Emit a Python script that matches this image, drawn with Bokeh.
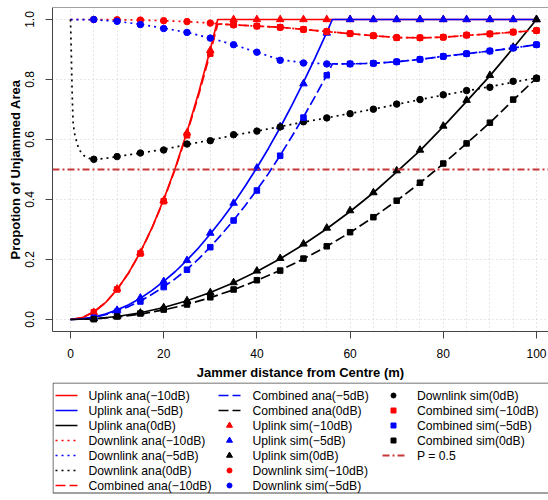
from bokeh.plotting import figure
from bokeh.models import Range1d, FixedTicker, Span, PrintfTickFormatter
from bokeh.layouts import column
from bokeh.embed import file_html
from bokeh.resources import INLINE
from bokeh.core.properties import value

FONT = "Liberation Sans"
RED, BLUE, BLACK = "#FF0000", "#0000FF", "#000000"
P_COLOR = "#C83737"
FRAME = "#444444"

# ---------------- data ----------------
X_TICKS = [0, 20, 40, 60, 80, 100]
Y_TICKS = [0.0, 0.2, 0.4, 0.6, 0.8, 1.0]
GRID_X = [0, 5, 10, 15, 20, 25, 30, 35, 40, 45, 50, 55, 60, 65, 70, 75, 80, 85, 90, 95, 100]
P_LEVEL = 0.5

# analytic curves
UL_M10_X = [0, 2.5, 5, 7.5, 10, 12.5, 15, 17.5, 20, 22.5, 25, 27.5, 30, 31.6, 100]
UL_M10_Y = [0, 0.006, 0.025, 0.056, 0.100, 0.156, 0.225, 0.306, 0.400, 0.506, 0.625, 0.756, 0.900, 1.0, 1.0]

UL_M5_X = [0, 2.5, 5, 7.5, 10, 12.5, 15, 17.5, 20, 22.5, 25, 27.5, 30, 32.5, 35, 37.5, 40, 42.5,
           45, 47.5, 50, 52.5, 55, 56.2, 100]
UL_M5_Y = [0, 0.002, 0.008, 0.018, 0.032, 0.049, 0.071, 0.097, 0.127, 0.160, 0.198, 0.239, 0.285,
           0.334, 0.387, 0.445, 0.506, 0.571, 0.640, 0.714, 0.791, 0.872, 0.957, 1.0, 1.0]

UL_0_X = [0, 5, 10, 15, 20, 25, 30, 35, 40, 45, 50, 55, 60, 65, 70, 75, 80, 85, 90, 95, 100]
UL_0_Y = [0, 0.0025, 0.010, 0.0225, 0.040, 0.0625, 0.090, 0.1225, 0.160, 0.2025, 0.250, 0.3025,
          0.360, 0.4225, 0.492, 0.563, 0.643, 0.727, 0.812, 0.905, 1.0]

DL_M10_X = [0, 5, 10, 15, 20, 25, 30, 35, 40, 45, 50, 55, 60, 65, 70, 75, 80, 85, 90, 95, 100]
DL_M10_Y = [1.0, 1.0, 0.999, 0.998, 0.996, 0.993, 0.988, 0.982, 0.978, 0.974, 0.967, 0.960, 0.953,
            0.946, 0.940, 0.939, 0.941, 0.947, 0.952, 0.958, 0.963]

DL_M5_X = [0, 5, 10, 15, 20, 25, 30, 35, 40, 45, 50, 55, 60, 65, 70, 75, 80, 85, 90, 95, 100]
DL_M5_Y = [1.0, 0.999, 0.994, 0.984, 0.971, 0.957, 0.938, 0.916, 0.891, 0.866, 0.856, 0.852, 0.852,
           0.854, 0.859, 0.867, 0.877, 0.886, 0.895, 0.905, 0.916]

DL_0_X = [0, 0.2, 0.35, 0.55, 0.8, 1.1, 1.8, 2.9, 4, 5, 7.5, 10, 15, 20, 25, 30, 35, 40, 45, 50,
          55, 60, 65, 70, 75, 80, 85, 90, 95, 100]
DL_0_Y = [1.0, 0.87, 0.76, 0.66, 0.625, 0.605, 0.567, 0.546, 0.537, 0.534, 0.537, 0.543, 0.555,
          0.567, 0.583, 0.598, 0.614, 0.628, 0.643, 0.658, 0.672, 0.687, 0.701, 0.717, 0.733,
          0.748, 0.762, 0.776, 0.791, 0.805]

CB_M10_X = [0, 2.5, 5, 7.5, 10, 12.5, 15, 17.5, 20, 22.5, 25, 27.5, 30, 31.6, 35, 40, 45, 50, 55,
            60, 65, 70, 75, 80, 85, 90, 95, 100]
CB_M10_Y = [0, 0.006, 0.025, 0.056, 0.100, 0.156, 0.224, 0.305, 0.398, 0.503, 0.620, 0.748, 0.889,
            0.985, 0.982, 0.978, 0.974, 0.967, 0.960, 0.953, 0.946, 0.940, 0.939, 0.941, 0.947,
            0.952, 0.958, 0.963]

CB_M5_X = [0, 2.5, 5, 7.5, 10, 12.5, 15, 17.5, 20, 22.5, 25, 27.5, 30, 32.5, 35, 37.5, 40, 42.5,
           45, 47.5, 50, 52.5, 55, 56.2, 60, 65, 70, 75, 80, 85, 90, 95, 100]
CB_M5_Y = [0, 0.002, 0.007, 0.016, 0.028, 0.043, 0.062, 0.084, 0.109, 0.136, 0.167, 0.202, 0.242,
           0.285, 0.331, 0.380, 0.432, 0.487, 0.547, 0.610, 0.675, 0.744, 0.815, 0.852, 0.852,
           0.854, 0.859, 0.867, 0.877, 0.886, 0.895, 0.905, 0.916]

CB_0_X = [0, 5, 10, 15, 20, 25, 30, 35, 40, 45, 50, 55, 60, 65, 70, 75, 80, 85, 90, 95, 100]
CB_0_Y = [0, 0.002, 0.008, 0.018, 0.032, 0.050, 0.073, 0.099, 0.130, 0.164, 0.202, 0.244, 0.290,
          0.341, 0.396, 0.455, 0.519, 0.587, 0.656, 0.731, 0.805]

# simulation points
SIM_X = [5, 10, 15, 20, 25, 30, 35, 40, 45, 50, 55, 60, 65, 70, 75, 80, 85, 90, 95, 100]
US_M10 = [0.024, 0.102, 0.222, 0.396, 0.622, 0.897, 1.0, 1.0, 1.0, 1.0, 1.0, 1.0, 1.0, 1.0, 1.0,
          1.0, 1.0, 1.0, 1.0, 1.0]
US_M5 = [0.008, 0.031, 0.072, 0.127, 0.197, 0.288, 0.388, 0.505, 0.643, 0.786, 0.955, 1.0, 1.0,
         1.0, 1.0, 1.0, 1.0, 1.0, 1.0, 1.0]
US_0 = [0.003, 0.010, 0.022, 0.040, 0.063, 0.090, 0.123, 0.162, 0.204, 0.252, 0.305, 0.363, 0.423,
        0.496, 0.565, 0.645, 0.731, 0.814, 0.908, 1.0]
DS_M10 = [1.0, 0.999, 0.998, 0.996, 0.993, 0.988, 0.982, 0.978, 0.974, 0.967, 0.960, 0.953, 0.946,
          0.940, 0.939, 0.941, 0.948, 0.952, 0.958, 0.963]
DS_M5 = [1.0, 0.994, 0.983, 0.970, 0.957, 0.938, 0.916, 0.891, 0.864, 0.855, 0.852, 0.852, 0.854,
         0.859, 0.867, 0.877, 0.886, 0.895, 0.905, 0.916]
DS_0 = [0.534, 0.543, 0.555, 0.565, 0.585, 0.596, 0.616, 0.628, 0.642, 0.659, 0.672, 0.686, 0.701,
        0.718, 0.733, 0.749, 0.763, 0.774, 0.794, 0.805]
CS_M10 = [0.024, 0.100, 0.220, 0.394, 0.614, 0.886, 0.983, 0.978, 0.974, 0.967, 0.960, 0.953,
          0.946, 0.939, 0.939, 0.941, 0.948, 0.952, 0.958, 0.963]
CS_M5 = [0.006, 0.026, 0.060, 0.108, 0.166, 0.241, 0.330, 0.430, 0.546, 0.673, 0.814, 0.852,
         0.854, 0.859, 0.867, 0.877, 0.886, 0.895, 0.905, 0.916]
CS_0 = [0.001, 0.010, 0.020, 0.033, 0.050, 0.074, 0.100, 0.131, 0.163, 0.203, 0.244, 0.291, 0.341,
        0.396, 0.456, 0.520, 0.587, 0.656, 0.733, 0.803]

LEGEND_LABELS = [
    "Uplink ana(\u221210dB)", "Uplink ana(\u22125dB)", "Uplink ana(0dB)",
    "Downlink ana(\u221210dB)", "Downlink ana(\u22125dB)", "Downlink ana(0dB)",
    "Combined ana(\u221210dB)", "Combined ana(\u22125dB)", "Combined ana(0dB)",
    "Uplink sim(\u221210dB)", "Uplink sim(\u22125dB)", "Uplink sim(0dB)",
    "Downlink sim(\u221210dB)", "Downlink sim(\u22125dB)", "Downlink sim(0dB)",
    "Combined sim(\u221210dB)", "Combined sim(\u22125dB)", "Combined sim(0dB)",
    "P = 0.5",
]

# ---------------- styles ----------------
SOLID, DOTTED, DASHED, DOTDASH = "solid", "2 4", "10 4", "7 3 2 3"
LW = 1.7
TRI, CIR, SQR = 7.5, 6.5, 5.5

W = 548
H_MAIN = 382
H_LEG = 118
LEFT = 52

# ---------------- main plot ----------------
p = figure(width=W, height=H_MAIN, output_backend="svg", toolbar_location=None,
           x_range=Range1d(-3.86, 102.58), y_range=Range1d(-0.04, 1.04),
           min_border_left=LEFT, min_border_right=0, min_border_top=7, min_border_bottom=50,
           background_fill_color="white", border_fill_color="white")
p.outline_line_color = None

for ax in (p.xaxis[0], p.yaxis[0]):
    ax.axis_line_color = FRAME
    ax.major_tick_line_color = FRAME
    ax.major_tick_out = 7
    ax.major_tick_in = 0
    ax.minor_tick_out = 0
    ax.minor_tick_in = 0
    ax.major_label_text_font = FONT
    ax.major_label_text_font_size = "12px"
    ax.major_label_text_color = "black"
    ax.axis_label_text_font = FONT
    ax.axis_label_text_font_size = "13px"
    ax.axis_label_text_font_style = "bold"
    ax.axis_label_text_color = "black"

p.xaxis.ticker = FixedTicker(ticks=X_TICKS)
p.yaxis.ticker = FixedTicker(ticks=Y_TICKS)
p.yaxis.formatter = PrintfTickFormatter(format="%.1f")
p.yaxis.major_label_orientation = "vertical"
p.xaxis.major_label_standoff = 10
p.yaxis.major_label_standoff = 12
p.xaxis.axis_label_standoff = 4
p.yaxis.axis_label_standoff = -1
p.xaxis.axis_label = "Jammer distance from Centre (m)"
p.yaxis.axis_label = "Propotion of Unjammed Area"

p.xgrid.ticker = FixedTicker(ticks=GRID_X)
p.ygrid.ticker = FixedTicker(ticks=Y_TICKS)
p.grid.grid_line_color = "#CCCCCC"
p.grid.grid_line_dash = "1 3"
p.grid.grid_line_width = 1

p.add_layout(Span(location=p.y_range.end, dimension="width", line_color=FRAME, line_width=1))

# analytic lines
p.line(UL_M10_X, UL_M10_Y, color=RED, line_width=LW)
p.line(UL_M5_X, UL_M5_Y, color=BLUE, line_width=LW)
p.line(UL_0_X, UL_0_Y, color=BLACK, line_width=LW)
p.line(DL_M10_X, DL_M10_Y, color=RED, line_width=LW, line_dash=DOTTED)
p.line(DL_M5_X, DL_M5_Y, color=BLUE, line_width=LW, line_dash=DOTTED)
p.line(DL_0_X, DL_0_Y, color=BLACK, line_width=LW, line_dash=DOTTED)
p.line(CB_M10_X, CB_M10_Y, color=RED, line_width=LW, line_dash=DASHED)
p.line(CB_M5_X, CB_M5_Y, color=BLUE, line_width=LW, line_dash=DASHED)
p.line(CB_0_X, CB_0_Y, color=BLACK, line_width=LW, line_dash=DASHED)

# simulation markers
for ys, c in ((US_M10, RED), (US_M5, BLUE), (US_0, BLACK)):
    p.scatter(SIM_X, ys, marker="triangle", size=TRI, color=c)
for ys, c in ((DS_M10, RED), (DS_M5, BLUE), (DS_0, BLACK)):
    p.scatter(SIM_X, ys, marker="circle", size=CIR, color=c)
for ys, c in ((CS_M10, RED), (CS_M5, BLUE), (CS_0, BLACK)):
    p.scatter(SIM_X, ys, marker="square", size=SQR, color=c)

p.add_layout(Span(location=P_LEVEL, dimension="width", line_color=P_COLOR, line_width=2,
                  line_dash=DOTDASH))

# ---------------- legend panel (x in page pixels, y in pixels from its top) ----------------
lg = figure(width=W, height=H_LEG, output_backend="svg", toolbar_location=None,
            x_range=Range1d(LEFT, W), y_range=Range1d(H_LEG, 0),
            min_border_left=LEFT, min_border_right=0, min_border_top=0, min_border_bottom=0,
            x_axis_type=None, y_axis_type=None,
            background_fill_color="white", border_fill_color="white")
lg.outline_line_color = None
lg.grid.visible = False

BOX_L, BOX_T, BOX_B = 52.5, 0.5, 110.5
lg.multi_line(xs=[[BOX_L, W], [BOX_L, BOX_L], [BOX_L, W]],
              ys=[[BOX_T, BOX_T], [BOX_T, BOX_B], [BOX_B, BOX_B]],
              line_color=FRAME, line_width=1)

items = [
    ("line", RED, SOLID), ("line", BLUE, SOLID), ("line", BLACK, SOLID),
    ("line", RED, DOTTED), ("line", BLUE, DOTTED), ("line", BLACK, DOTTED),
    ("line", RED, DASHED), ("line", BLUE, DASHED), ("line", BLACK, DASHED),
    ("triangle", RED, None), ("triangle", BLUE, None), ("triangle", BLACK, None),
    ("circle", RED, None), ("circle", BLUE, None), ("circle", BLACK, None),
    ("square", RED, None), ("square", BLUE, None), ("square", BLACK, None),
    ("pline", P_COLOR, DOTDASH),
]
COL_X0 = [55, 218, 382]
COL_TX = [88, 252, 416.5]
SAMPLE_W = 22
ROW_Y0, ROW_DY = 13, 15

tx, ty = [], []
for i, (kind, col, dash) in enumerate(items):
    c, r = divmod(i, 7)
    yy = ROW_Y0 + ROW_DY * r
    x0 = COL_X0[c]
    if kind in ("line", "pline"):
        lg.line([x0, x0 + SAMPLE_W], [yy, yy], line_color=col,
                line_width=2 if kind == "pline" else LW, line_dash=dash)
    else:
        size = {"triangle": 6, "circle": 5, "square": 5}[kind]
        lg.scatter([x0 + SAMPLE_W / 2], [yy], marker=kind, size=size, color=col)
    tx.append(COL_TX[c])
    ty.append(yy)

lg.text(x=tx, y=ty, text=LEGEND_LABELS, text_font=value(FONT), text_font_size=value("12.2px"),
        text_baseline="middle", text_align="left", text_color="black")

layout = column(p, lg, spacing=0)
open("out.html", "w").write(file_html(layout, INLINE))
